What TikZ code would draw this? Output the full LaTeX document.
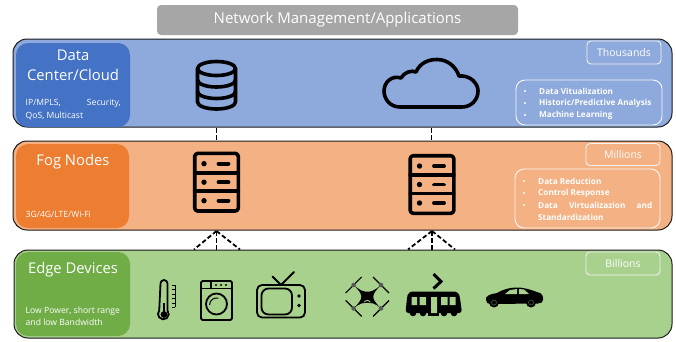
\documentclass[tikz,border=0pt]{standalone}
\usepackage{fontspec}
\setmainfont{Open Sans}
\definecolor{bluepanel}{HTML}{8EA9DB}
\definecolor{blueinner}{HTML}{4472C4}
\definecolor{orangepanel}{HTML}{F4B183}
\definecolor{orangeinner}{HTML}{ED7D31}
\definecolor{greenpanel}{HTML}{A9D18E}
\definecolor{greeninner}{HTML}{70AD47}
\definecolor{graybar}{HTML}{A6A6A6}
\definecolor{outline}{HTML}{1A1A1A}
\tikzset{
  panel/.style={draw=outline,line width=1pt,rounded corners=14pt},
  inner/.style={rounded corners=12pt},
  countbox/.style={draw=white!90!gray,line width=.9pt,rounded corners=4pt,text=white,font=\fontsize{10.5}{12}\selectfont,inner sep=0pt},
  listbox/.style={draw=white!95!gray,line width=.9pt,rounded corners=9pt},
  title/.style={text=white,font=\fontsize{14.8}{20}\selectfont,align=center,inner sep=0pt},
  small/.style={text=white,font=\fontsize{8.6}{12.6}\selectfont,align=left,inner sep=0pt,anchor=north west},
  bullet/.style={text=white,font=\fontsize{8.2}{12}\selectfont\bfseries,inner sep=0pt,anchor=west},
  icon/.style={draw=black,line width=3.6pt,line join=round,line cap=round},
  iconthin/.style={draw=black,line width=1.8pt,line join=round,line cap=round},
  link/.style={draw=black,line width=1.8pt,dash pattern=on 4.5pt off 2.5pt},
}
\newcommand{\serverico}[2]{%
  \begin{scope}[shift={(#1,#2)}]
    \draw[icon,rounded corners=3pt] (-21.8,-28.8) rectangle (21.8,28.8);
    \draw[icon] (-21.8,-9.5) -- (21.8,-9.5) (-21.8,9) -- (21.8,9);
    \foreach \yy in {-18.5,0,18.5}{
      \fill[black] (-12.5,\yy) circle (2.7);
      \draw[icon,line width=3.8pt] (2,\yy) -- (12,\yy);
    }
  \end{scope}}
\begin{document}
\begin{tikzpicture}[x=1pt,y=-1pt]
\useasboundingbox (0,0) rectangle (676,341);
\fill[white] (0,0) rectangle (676,341);
% top bar
\node[fill=graybar,rounded corners=4pt,minimum width=361pt,minimum height=30pt,inner sep=0pt,text=white,font=\fontsize{15}{17}\selectfont] (bar) at (337.5,20) {\raisebox{-1.5pt}{Network Management/Applications}};
% panels
\node[panel,fill=bluepanel,minimum width=659pt,minimum height=88pt,inner sep=0pt] (cloudpanel) at (342.5,83) {};
\node[panel,fill=orangepanel,minimum width=659pt,minimum height=89pt,inner sep=0pt] (fogpanel) at (342.5,185.5) {};
\node[panel,fill=greenpanel,minimum width=658pt,minimum height=88pt,inner sep=0pt] (edgepanel) at (343,294) {};
\fill[blueinner,inner] (16,43) rectangle (130,127);
\fill[orangeinner,inner] (16,144) rectangle (129,228);
\fill[greeninner,inner] (16,252) rectangle (130,336);
% titles
\node[title] (t1) at (73,65.5) {Data\\Center/Cloud};
\node[title] (t2) at (73,162) {Fog Nodes};
\node[title] (t3) at (73,270) {Edge Devices};
\node[small,text width=95pt,align=justify] (s1) at (25.5,99) {IP/MPLS,\hfill Security,\\QoS, Multicast};
\node[small] (s2) at (25.5,210.5) {3G/4G/LTE/Wi-Fi};
\node[small] (s3) at (25.5,306.5) {Low Power, short range\\and low Bandwidth};
% counts
\node[countbox,minimum width=74pt,minimum height=23pt] (c1) at (624,52.5) {\raisebox{-1pt}{Thousands}};
\node[countbox,minimum width=74pt,minimum height=22pt] (c2) at (623,154.5) {\raisebox{-1pt}{Millions}};
\node[countbox,minimum width=74pt,minimum height=23pt] (c3) at (623,263.5) {\raisebox{-1pt}{Billions}};
% lists
\draw[listbox] (516,80) rectangle (662,125);
\draw[listbox] (515,169) rectangle (660,228);
\node[bullet] (l1) at (539,91) {Data Vitualization};
\node[bullet] (l2) at (539,103) {Historic/Predictive Analysis};
\node[bullet] (l3) at (539,115) {Machine Learning};
\node[bullet] (m1) at (538,181) {Data Reduction};
\node[bullet] (m2) at (538,193) {Control Response};
\node[bullet] (m3) at (538,205) {\makebox[114pt][s]{Data\hfill Virtualizazion\hfill and}};
\node[bullet] (m4) at (538,217) {Standardization};
\foreach \yy in {91,103,115}{\fill[white] (525,\yy) circle (1.2);}
\foreach \yy in {181,193,205}{\fill[white] (524,\yy) circle (1.2);}
% database
\begin{scope}[shift={(216.5,85)}]
  \draw[icon] (0,-16.5) ellipse [x radius=19,y radius=7];
  \draw[icon] (-19,-16.5) -- (-19,17) arc[start angle=180,end angle=0,x radius=19,y radius=7] -- (19,-16.5);
  \draw[icon] (-19,-5) arc[start angle=180,end angle=0,x radius=19,y radius=7];
  \draw[icon] (-19,6.5) arc[start angle=180,end angle=0,x radius=19,y radius=7];
\end{scope}
% cloud
\draw[icon] (400,107) .. controls (390,107) and (384,99) .. (384,91)
  .. controls (384,82) and (392,75) .. (401,78)
  .. controls (404,72) and (412,70) .. (416,72)
  .. controls (420,63) and (428,59.5) .. (437,59.5)
  .. controls (448,59.5) and (456,67) .. (459,76)
  .. controls (470,75) and (478,83) .. (478,91)
  .. controls (478,100) and (471,107) .. (462,107) -- cycle;
% servers
\serverico{216.5}{182.2}
\serverico{432}{184.5}
% connectors
\coordinate (d1) at (216.5,128);
\coordinate (f1) at (216.5,141);
\coordinate (d2) at (431.5,128);
\coordinate (f2) at (431.5,141);
\draw[link] (d1) -- (f1);
\draw[link] (d2) -- (f2);
\coordinate (a1) at (216.5,231);
\coordinate (b1l) at (194,249.5);
\coordinate (b1m) at (216.5,249.5);
\coordinate (b1r) at (240,249.5);
\coordinate (a2) at (432,231);
\coordinate (b2l) at (408,249.5);
\coordinate (b2m) at (432,249.5);
\coordinate (b2r) at (455,249.5);
\draw[link] (a1) -- (b1l);
\draw[link] (a1) -- (b1m);
\draw[link] (a1) -- (b1r);
\draw[link] (a2) -- (b2l);
\draw[link] (a2) -- (b2m);
\draw[link] (a2) -- (b2r);
% thermometer
\draw[iconthin] (160.5,283.5) arc[start angle=180,end angle=360,radius=3.5] -- (167.5,310.5)
  arc[start angle=-40,end angle=220,radius=5.4] -- cycle;
\fill[black] (164,314.5) circle (3.4);
\draw[black,line width=1.6pt] (164,312) -- (164,303);
\draw[black,line width=.8pt] (175,285) -- (175,307);
\foreach \yy in {285,289.5,294,298.5,303,307}{\draw[black,line width=.8pt] (171.5,\yy) -- (175,\yy);}
% washer
\draw[iconthin,rounded corners=1.5pt] (201,281) rectangle (232,320);
\draw[iconthin] (201,288.5) -- (232,288.5) (211,281) -- (211,288.5);
\foreach \xx in {216,221,226}{\fill[black] (\xx,285) circle (1.1);}
\draw[iconthin] (216.5,304) circle (10.5);
\draw[black,line width=1pt] (209.5,305) arc[start angle=180,end angle=285,radius=7];
% tv
\draw[iconthin,rounded corners=5pt] (257,285) rectangle (305,317.5);
\draw[iconthin,rounded corners=7pt] (261.5,288.5) rectangle (292,314.5);
\fill[black] (299,296) circle (1.8);
\fill[black] (299,305.5) circle (1.8);
\draw[iconthin] (272.5,276.5) -- (281,285) -- (294,272);
% drone
\begin{scope}[shift={(367.3,296.7)}]
  \fill[black] (-13.7,-11.7) .. controls (-7,-6) and (-4,-5) .. (0,-5) .. controls (4,-5) and (7,-6) .. (13.7,-11.7)
    .. controls (8,-6) and (6,-3) .. (6,0) .. controls (6,3) and (8,6) .. (13.7,11.7)
    .. controls (7,6) and (4,6) .. (0,6) .. controls (-4,6) and (-7,6) .. (-13.7,11.7)
    .. controls (-8,6) and (-6,3) .. (-6,0) .. controls (-6,-3) and (-8,-6) .. (-13.7,-11.7) -- cycle;
  \draw[greenpanel,line width=.8pt] (-3,5.5) .. controls (-1,3) and (1,3) .. (3,5.5);
  \foreach \sx/\sy/\dd in {-1/-1/-1,1/-1/1,-1/1/1,1/1/-1}{
    \draw[black,line width=1.2pt] (13.7*\sx-8,11.7*\sy-8*\dd) -- (13.7*\sx+8,11.7*\sy+8*\dd);
    \fill[black!65] (13.7*\sx,11.7*\sy) circle (2.3);
  }
\end{scope}
% tram
\fill[black,rounded corners=3pt] (405.5,313) -- (407,298) .. controls (408,293) and (411,291.5) .. (415,291.5) -- (452,291.5) .. controls (457,291.5) and (459,294) .. (460,298) -- (462,313) -- cycle;
\foreach \xx in {413,423,444,454}{\fill[black] (\xx,313) circle (3.3);}
\fill[black] (428,313) rectangle (439,316);
\fill[greenpanel] (411.5,297) rectangle (417,305) (419.5,297) rectangle (426,305) (431,297) rectangle (437,313) (441,297) rectangle (447.5,305) (449.5,297) rectangle (455.5,305);
\draw[black,line width=3pt] (433.5,274) -- (441,281.5) -- (433.5,288.5);
% car
\fill[black] (486,300) .. controls (485,296) and (490,294) .. (497,293) .. controls (504,289) and (510,287.5) .. (517,287.5) .. controls (525,287.5) and (531,290) .. (537,292) .. controls (542,293) and (543.5,296) .. (543,300) .. controls (543,302) and (541,303.5) .. (538,303.5) -- (491,304) .. controls (488,304) and (486,303) .. (486,300) -- cycle;
\fill[greenpanel] (505,294) -- (510,290) -- (517,289) -- (517,294) -- cycle (519,289) -- (524,289.5) -- (529,294) -- (519,294) -- cycle;
\foreach \xx in {494,531}{
  \fill[black] (\xx,302.5) circle (5);
  \draw[greenpanel!40!black,line width=.7pt] (\xx,302.5) circle (2.5);
}
\end{tikzpicture}
\end{document}
